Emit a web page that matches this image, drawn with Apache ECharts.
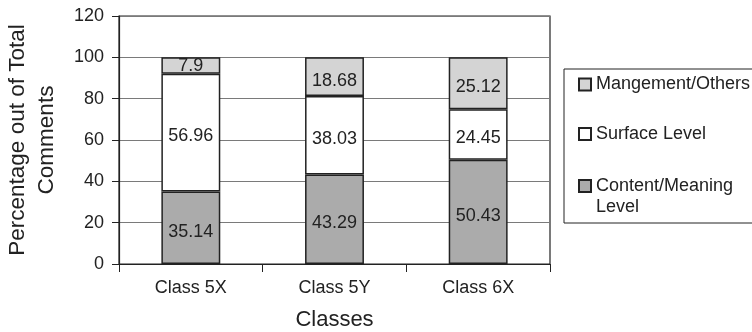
<!DOCTYPE html>
<html>
<head>
<meta charset="utf-8">
<style>
  html, body { margin: 0; padding: 0; background: #fff; }
  #chart { width: 752px; height: 332px; }
</style>
<script src="https://cdn.jsdelivr.net/npm/echarts@6/dist/echarts.min.js"></script>
</head>
<body>
<div id="chart"></div>
<script>
// Share of comments per class, by comment type (stacked to 100%)
const classes = ['Class 5X', 'Class 5Y', 'Class 6X'];
const contentMeaning = [35.14, 43.29, 50.43];
const surfaceLevel = [56.96, 38.03, 24.45];
const management = [7.9, 18.68, 25.12];
const yTicks = [0, 20, 40, 60, 80, 100, 120];

const FONT = 'Liberation Sans, Arial, Helvetica, sans-serif';
const INK = '#222';

const chart = echarts.init(document.getElementById('chart'), null, { renderer: 'canvas' });

function barSeries(name, values, color) {
  return {
    name: name,
    type: 'bar',
    stack: 'total',
    // labels sit a little below the segment middle, except in thin segments
    data: values.map(v => ({ value: v, label: { offset: [0, v < 10 ? 0.5 : 4] } })),
    barWidth: '41%',
    itemStyle: { color: color, borderColor: INK, borderWidth: 1.5 },
    label: {
      show: true,
      position: 'inside',
      color: INK,
      fontFamily: FONT,
      fontSize: 18,
      formatter: p => String(p.value)
    },
    emphasis: { disabled: true }
  };
}

const legendText = { color: INK, fontFamily: FONT, fontSize: 18, lineHeight: 21 };
const legendCommon = {
  orient: 'vertical',
  icon: 'rect',
  itemWidth: 12,
  itemHeight: 12,
  itemGap: 0,
  selectedMode: false,
  textStyle: legendText
};

chart.setOption({
  animation: false,
  backgroundColor: '#fff',
  grid: {
    left: 119, right: 202, top: 16, bottom: 68,
    outerBoundsMode: 'none',
    containLabel: false,
    show: true, borderColor: INK, borderWidth: 1.2, backgroundColor: 'transparent'
  },
  legend: [
    Object.assign({}, legendCommon, {
      left: 564, top: 69,
      padding: [5, 300, 128, 14],
      borderColor: INK, borderWidth: 1,
      data: ['Mangement/Others']
    }),
    Object.assign({}, legendCommon, {
      left: 578, top: 123.5, padding: 0,
      data: ['Surface Level']
    }),
    Object.assign({}, legendCommon, {
      left: 578, top: 154.5, padding: 0,
      data: ['Content/Meaning Level'],
      // leading blank line keeps the first text line level with the swatch
      formatter: () => '\nContent/Meaning\nLevel'
    })
  ],
  xAxis: {
    type: 'category',
    data: classes,
    name: 'Classes',
    nameLocation: 'middle',
    nameGap: 45,
    nameTextStyle: { color: INK, fontFamily: FONT, fontSize: 22 },
    axisLine: { lineStyle: { color: INK, width: 1.2 } },
    axisTick: { show: true, alignWithLabel: false, length: 8, lineStyle: { color: INK } },
    axisLabel: { color: INK, fontFamily: FONT, fontSize: 18, margin: 15 }
  },
  yAxis: {
    type: 'value',
    min: yTicks[0],
    max: yTicks[yTicks.length - 1],
    interval: yTicks[1] - yTicks[0],
    name: 'Percentage out of Total\nComments',
    nameLocation: 'middle',
    nameGap: 58,
    nameTextStyle: { color: INK, fontFamily: FONT, fontSize: 22.5, lineHeight: 29 },
    axisLine: { show: true, lineStyle: { color: INK, width: 1.2 } },
    axisTick: { show: true, length: 7, lineStyle: { color: INK } },
    axisLabel: { color: INK, fontFamily: FONT, fontSize: 18, margin: 15 },
    splitLine: { show: true, lineStyle: { color: '#7a7a7a', width: 1 } }
  },
  series: [
    barSeries('Content/Meaning Level', contentMeaning, '#ababab'),
    barSeries('Surface Level', surfaceLevel, '#ffffff'),
    barSeries('Mangement/Others', management, '#d4d4d4')
  ]
});
</script>
</body>
</html>
